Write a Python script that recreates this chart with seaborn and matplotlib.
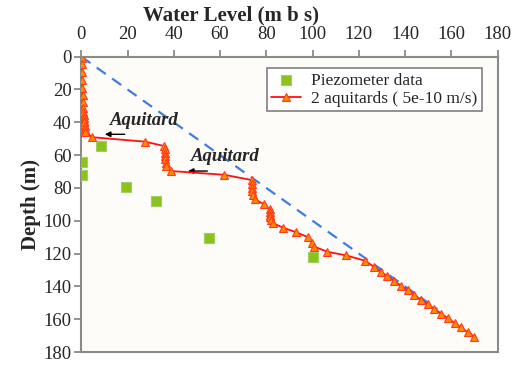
import matplotlib
matplotlib.use("Agg")
import matplotlib.pyplot as plt
import seaborn as sns

# Piezometer observations: water level (m below surface) vs depth (m)
piezo_level = [8.4, 0.3, 0.3, 19.3, 32.2, 55.1, 100.1]
piezo_depth = [54.5, 64.2, 72.1, 79.3, 88.2, 110.4, 122.3]

# Model profile with two aquitards (K = 5e-10 m/s)
model_level = [0.1, 0.1, 0.1, 0.2, 0.2, 0.2, 0.2, 0.3, 0.3, 0.3, 0.3, 0.3,
               0.3, 0.4, 0.4, 0.4, 0.4, 0.5, 0.5, 0.5, 0.5, 0.5, 0.6, 0.6,
               0.6, 0.6, 0.7, 0.7, 0.7, 0.7, 0.8, 0.8, 0.8, 0.9, 0.9, 1.0,
               1.0, 1.1, 1.1, 1.2, 1.3, 1.4, 1.5, 1.6,
               4.8, 27.6, 35.9, 36.0, 36.1, 36.2, 36.3, 36.5, 36.8, 38.8,
               61.9, 73.7, 73.8, 73.9, 74.0, 74.2, 75.2, 78.8, 81.4, 81.6,
               81.7, 81.8, 82.0, 83.1, 87.4, 92.9, 98.0, 99.8, 100.8, 106.4,
               114.5, 122.8, 126.7, 129.7, 132.2, 135.4, 138.3, 141.2, 144.1,
               146.9, 149.8, 152.7, 155.6, 158.6, 161.4, 164.2, 167.1, 170.0]
model_depth = [0, 1, 2, 3, 4, 5, 6, 7, 8, 9, 10, 11,
               12, 13, 14, 15, 16, 17, 18, 19, 20, 21, 22, 23,
               24, 25, 26, 27, 28, 29, 30, 31, 32, 33, 34, 35,
               36, 37, 38, 39, 40, 42, 44, 46,
               49.1, 51.8, 54.5, 56.5, 58.5, 60.5, 62.5, 64.5, 66.6, 69.7,
               72.0, 75.2, 77.5, 79.8, 82.1, 84.4, 87.0, 89.8, 93.0, 94.7,
               96.4, 98.0, 99.6, 101.6, 104.3, 107.0, 110.0, 113.4, 115.8, 118.9,
               121.1, 124.4, 128.2, 131.2, 133.6, 136.8, 139.6, 142.5, 145.3,
               148.1, 150.9, 153.7, 156.6, 159.5, 162.3, 165.0, 167.9, 170.7]

# Hydrostatic reference line
hydro_level = [0, 154]
hydro_depth = [0, 154]

x_ticks = [0, 20, 40, 60, 80, 100, 120, 140, 160, 180]
y_ticks = [0, 20, 40, 60, 80, 100, 120, 140, 160, 180]

sns.set_theme(style="white")
plt.rcParams["font.family"] = ["Liberation Serif", "DejaVu Serif"]

fig = plt.figure(figsize=(5.13, 3.65), dpi=100)
fig.patch.set_facecolor("white")
ax = fig.add_axes([0.1585, 0.0356, 0.8113, 0.8091])
ax.set_facecolor("#fdfcf9")

sns.lineplot(x=hydro_level, y=hydro_depth, sort=False, ax=ax,
             color="#3f7ce6", linewidth=1.6, linestyle=(0, (5, 3.5)),
             label="_hydro")

sns.scatterplot(x=piezo_level, y=piezo_depth, ax=ax, marker="s", s=48,
                color="#8cc21a", edgecolor="#9dcf6a", linewidth=0.8,
                label="Piezometer data", zorder=4)

sns.lineplot(x=model_level, y=model_depth, sort=False, ax=ax,
             color="#ff1010", linewidth=1.3, marker="^", markersize=6,
             markerfacecolor="#ff8a00", markeredgecolor="#ff3a1a",
             markeredgewidth=0.8, label="2 aquitards ( 5e-10 m/s)", zorder=5)

ax.set_xlim(0, 180)
ax.set_ylim(180, 0)
ax.set_xticks(x_ticks)
ax.set_yticks(y_ticks)
ax.xaxis.tick_top()
ax.tick_params(axis="both", which="both", direction="out", length=5,
               width=1.2, color="#808080", labelsize=13.5,
               top=True, bottom=False, left=True, right=False)
ax.tick_params(axis="x", pad=5)
ax.tick_params(axis="y", pad=2)
for sp in ax.spines.values():
    sp.set_color("#8a8a8a")
    sp.set_linewidth(1.5)

ax.set_xlabel("")
ax.set_ylabel("Depth (m)", fontsize=15, fontweight="bold", labelpad=2)
# Axis title above the top tick labels
fig.text(0.4495, 0.985, "Water Level (m b s)", fontsize=15, fontweight="bold",
         ha="center", va="top")

# Aquitard annotations
ax.annotate("", xy=(9.0, 47.3), xytext=(20.0, 47.3),
            arrowprops=dict(arrowstyle="-|>", color="black", lw=1.0,
                            mutation_scale=8))
ax.text(27.1, 38.6, "Aquitard", fontsize=13.5, fontweight="bold",
        fontstyle="italic", ha="center", va="center")
ax.annotate("", xy=(44.9, 69.7), xytext=(55.7, 69.7),
            arrowprops=dict(arrowstyle="-|>", color="black", lw=1.0,
                            mutation_scale=8))
ax.text(62.2, 61.0, "Aquitard", fontsize=13.5, fontweight="bold",
        fontstyle="italic", ha="center", va="center")

handles, labels = ax.get_legend_handles_labels()
keep = [i for i, l in enumerate(labels) if not l.startswith("_")]
leg = ax.legend([handles[i] for i in keep], [labels[i] for i in keep],
                loc="upper left", bbox_to_anchor=(0.4455, 0.961),
                fontsize=12.5, frameon=True, fancybox=False,
                edgecolor="#808080", facecolor="white", framealpha=1,
                borderpad=0.25, handlelength=1.7, handletextpad=0.6,
                labelspacing=0.1, borderaxespad=0)
leg.get_frame().set_linewidth(1.2)

fig.savefig("out.png", dpi=100, facecolor="white")
